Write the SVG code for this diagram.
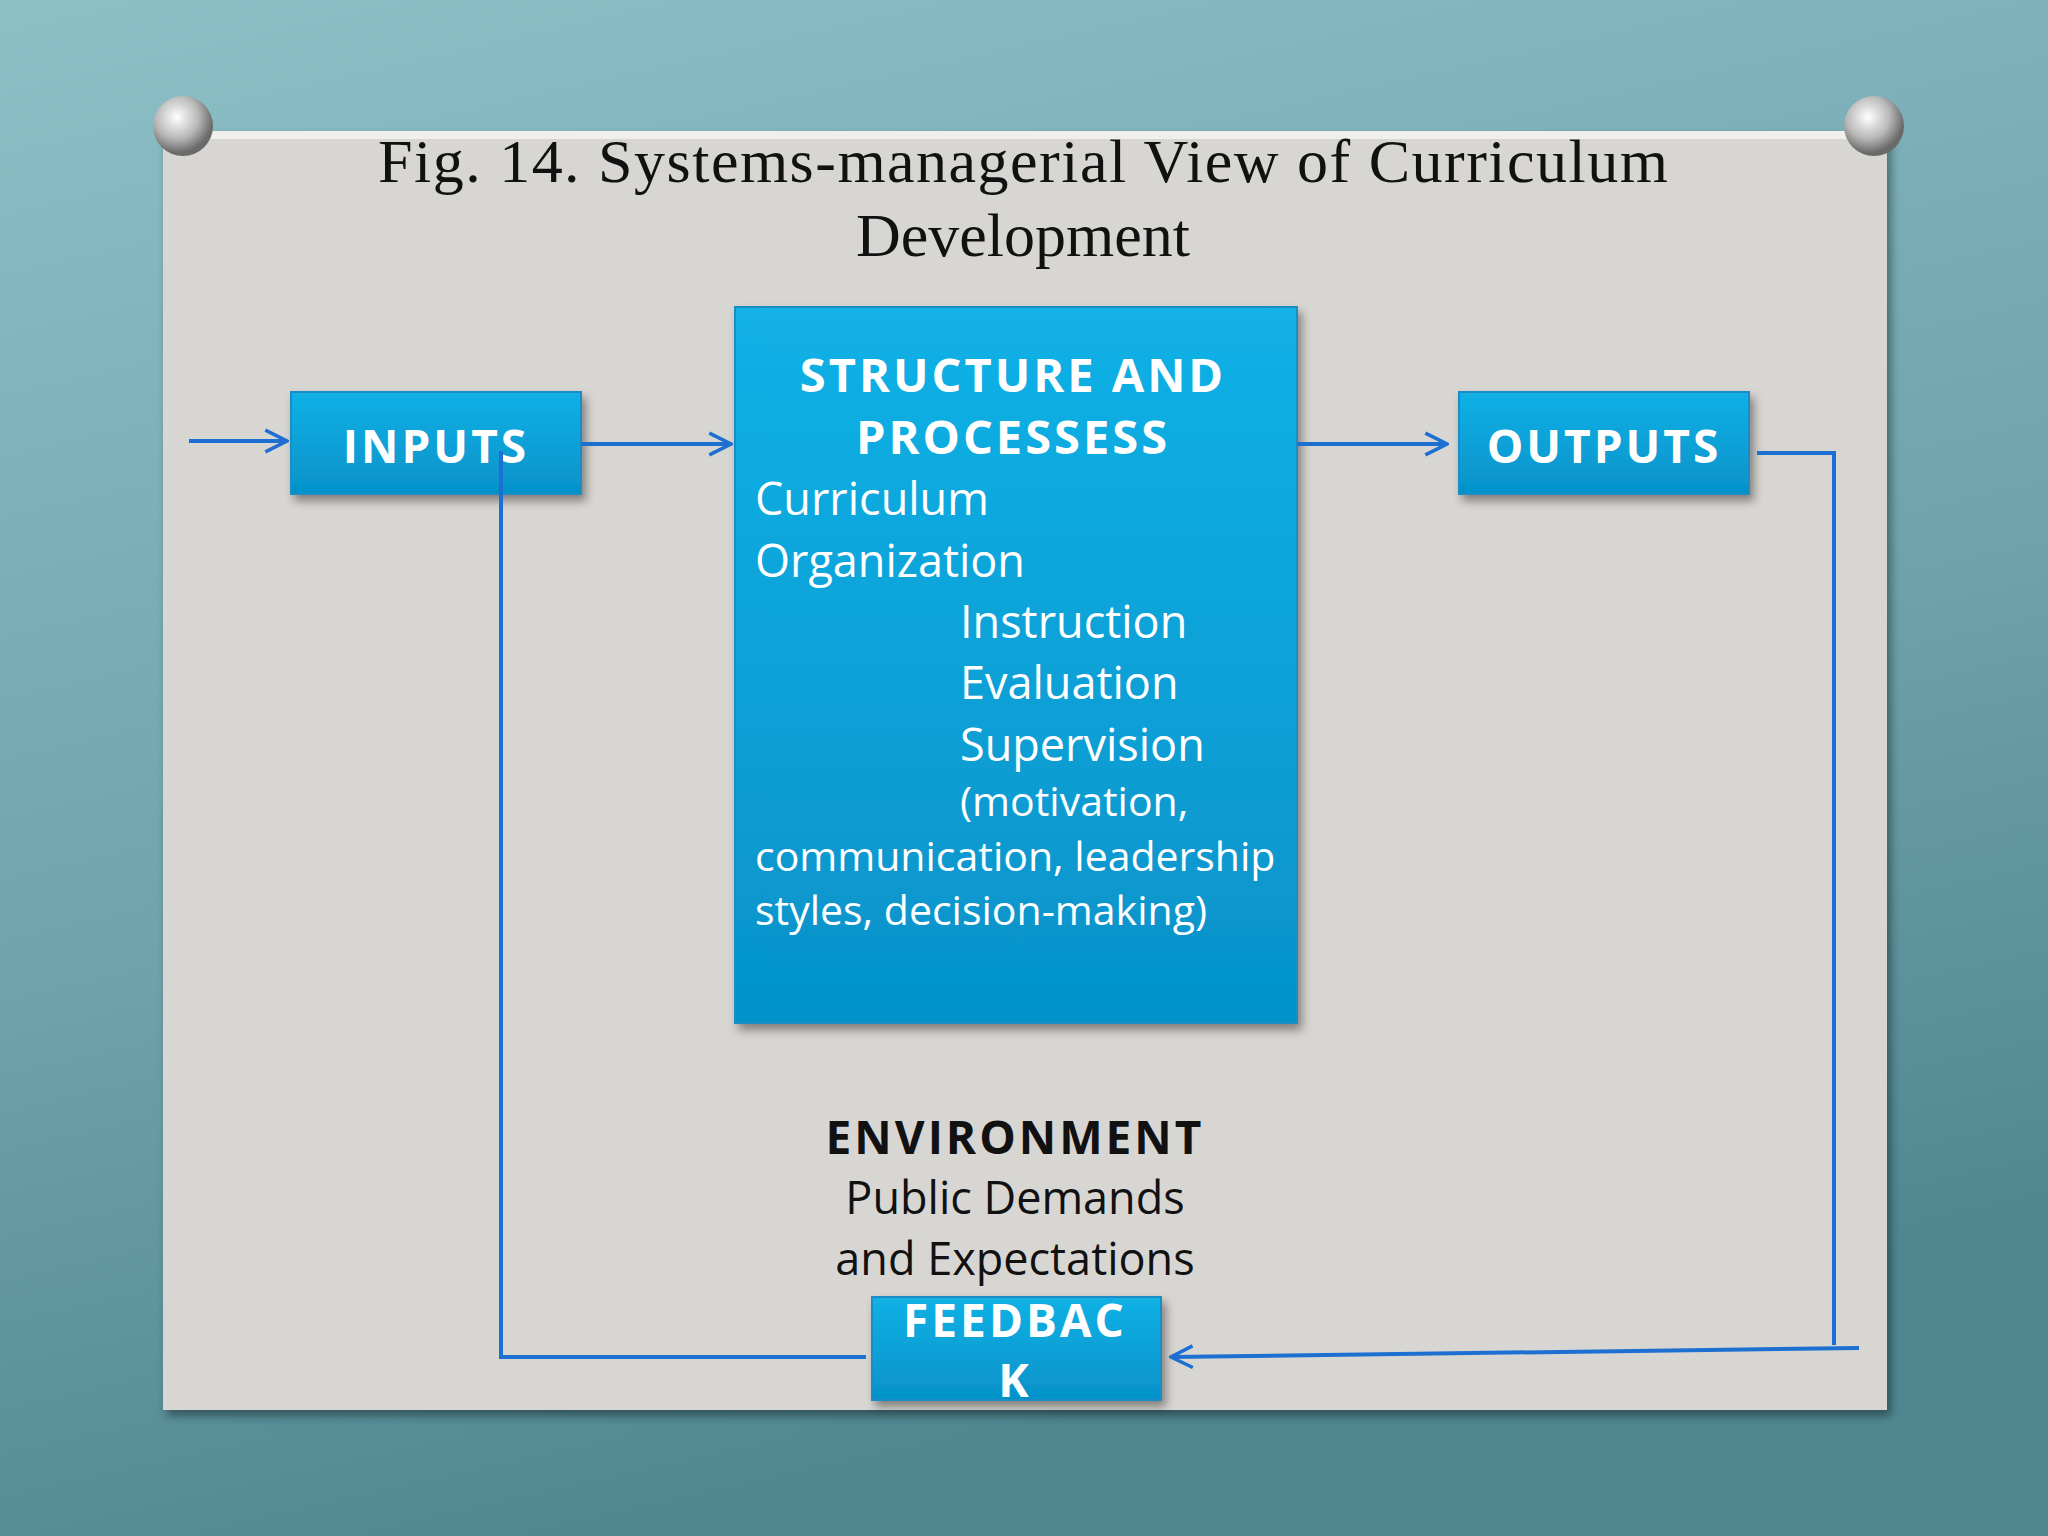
<svg xmlns="http://www.w3.org/2000/svg" width="2048" height="1536" viewBox="0 0 2048 1536">
<defs>
<linearGradient id="bg" x1="0" y1="0" x2="0.3" y2="1"><stop offset="0" stop-color="#8cbfc6"/><stop offset="0.6" stop-color="#6fa2ab"/><stop offset="1" stop-color="#4f8790"/></linearGradient>
<linearGradient id="box" x1="0" y1="0" x2="0" y2="1"><stop offset="0" stop-color="#12b1e6"/><stop offset="1" stop-color="#0592c9"/></linearGradient>
<radialGradient id="pin" cx="0.4" cy="0.35" r="0.6"><stop offset="0" stop-color="#ffffff"/><stop offset="0.6" stop-color="#b8b8b8"/><stop offset="1" stop-color="#6a6a6a"/></radialGradient>
<marker id="ar" viewBox="0 0 12 12" refX="11" refY="6" markerWidth="26" markerHeight="26" orient="auto" markerUnits="userSpaceOnUse"><path d="M1,1 L11,6 L1,11" fill="none" stroke="#1d6fd1" stroke-width="1.6"/></marker>
<filter id="sh" x="-10%" y="-10%" width="130%" height="130%"><feDropShadow dx="4" dy="6" stdDeviation="5" flood-opacity="0.4"/></filter>
</defs>
<style>
.bx{fill:url(#box);stroke:#1a8cc4;stroke-width:2;filter:url(#sh)}
.hd{font-family:"Open Sans","DejaVu Sans",sans-serif;font-weight:bold;fill:#fff;letter-spacing:3px}
.tx{font-family:"Open Sans","DejaVu Sans",sans-serif;fill:#fff}
.dk{font-family:"Open Sans","DejaVu Sans",sans-serif;fill:#111}
.ln{fill:none;stroke:#1d6fd1;stroke-width:4}
</style>
<rect width="2048" height="1536" fill="url(#bg)"/>
<rect x="163" y="131" width="1724" height="1279" fill="#d8d6d3" filter="url(#sh)"/>
<rect x="163" y="131" width="1724" height="8" fill="#f0efec"/>
<g id="pins"><circle cx="183" cy="126" r="30" fill="url(#pin)"/><circle cx="1874" cy="126" r="30" fill="url(#pin)"/></g>
<g id="title" font-family="'Liberation Serif',serif" font-size="62" fill="#111" text-anchor="middle">
<text x="1023" y="182" textLength="1290">Fig. 14. Systems-managerial View of Curriculum</text>
<text x="1023" y="256">Development</text>
</g>
<g id="inputs"><rect class="bx" x="291" y="392" width="290" height="102"/><text class="hd" x="436" y="463" font-size="46" text-anchor="middle">INPUTS</text></g>
<g id="structure"><rect class="bx" x="735" y="307" width="562" height="716"/>
<text class="hd" x="1013" y="392" font-size="47" text-anchor="middle">STRUCTURE AND</text>
<text class="hd" x="1013" y="454" font-size="47" text-anchor="middle">PROCESSESS</text>
<text class="tx" font-size="45" x="755" y="515">Curriculum</text>
<text class="tx" font-size="45" x="755" y="577">Organization</text>
<text class="tx" font-size="45" x="960" y="638">Instruction</text>
<text class="tx" font-size="45" x="960" y="699">Evaluation</text>
<text class="tx" font-size="45" x="960" y="761">Supervision</text>
<text class="tx" font-size="41" x="960" y="816">(motivation,</text>
<text class="tx" font-size="41" x="755" y="871">communication, leadership</text>
<text class="tx" font-size="41" x="755" y="925">styles, decision-making)</text>
</g>
<g id="outputs"><rect class="bx" x="1459" y="392" width="290" height="102"/><text class="hd" x="1604" y="463" font-size="46" text-anchor="middle">OUTPUTS</text></g>
<g id="environment" text-anchor="middle">
<text class="dk" x="1015" y="1154" font-size="46" font-weight="bold" letter-spacing="3">ENVIRONMENT</text>
<text class="dk" x="1015" y="1214" font-size="45">Public Demands</text>
<text class="dk" x="1015" y="1275" font-size="45">and Expectations</text>
</g>
<g id="feedback"><rect class="bx" x="872" y="1297" width="289" height="103"/>
<text class="hd" x="1015" y="1337" font-size="46" text-anchor="middle">FEEDBAC</text>
<text class="hd" x="1015" y="1397" font-size="46" text-anchor="middle">K</text></g>
<g id="connectors">
<path class="ln" d="M189,441 L287,441" marker-end="url(#ar)"/>
<path class="ln" d="M581,444 L731,444" marker-end="url(#ar)"/>
<path class="ln" d="M1297,444 L1447,444" marker-end="url(#ar)"/>
<path class="ln" d="M1757,453 L1834,453 L1834,1345"/>
<path class="ln" d="M1859,1348 L1171,1357" marker-end="url(#ar)"/>
<path class="ln" d="M866,1357 L501,1357 L501,451"/>
</g>
</svg>
